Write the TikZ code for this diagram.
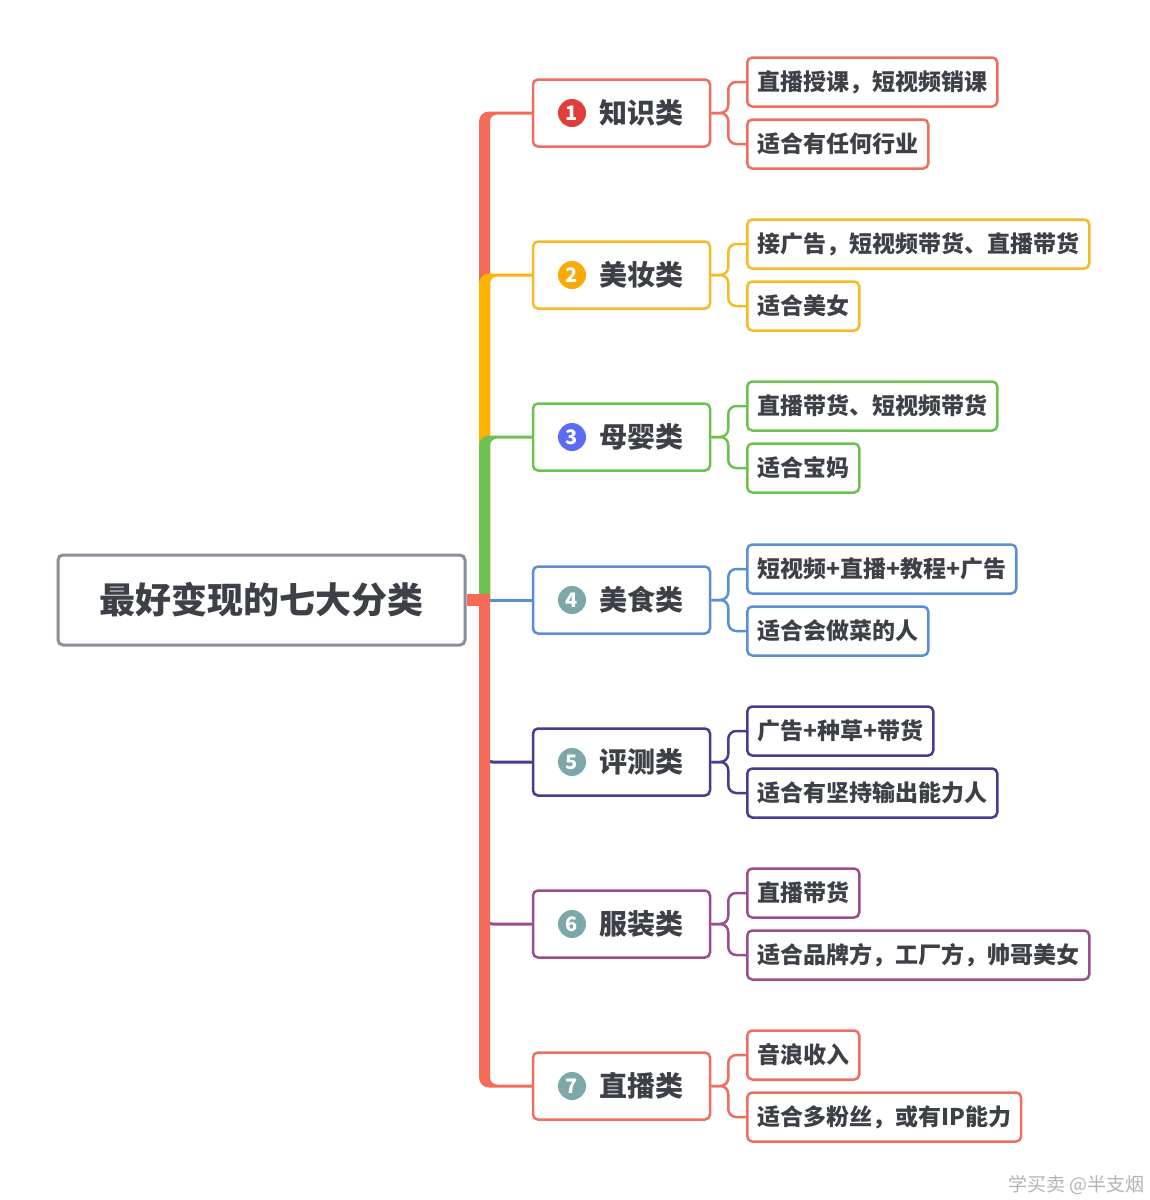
\documentclass[tikz,border=0pt]{standalone}
\usepackage{fontspec}
\setmainfont{Noto Sans CJK SC}
\usetikzlibrary{calc}
\definecolor{txt}{HTML}{3D4147}
\definecolor{rootgray}{HTML}{8A8F9C}
\definecolor{cora}{HTML}{F06E5C}
\definecolor{trunkcoral}{HTML}{F56B57}
\definecolor{reddot}{HTML}{E23D3D}
\definecolor{yel}{HTML}{F5BC28}
\definecolor{trunkyel}{HTML}{FFB300}
\definecolor{yeldot}{HTML}{F9A908}
\definecolor{grn}{HTML}{6CC24F}
\definecolor{violetdot}{HTML}{5C6CF2}
\definecolor{blu}{HTML}{5B8FD4}
\definecolor{tealdot}{HTML}{7CA8AA}
\definecolor{pur}{HTML}{4B3A8F}
\definecolor{plum}{HTML}{9B4D8D}
\definecolor{corb}{HTML}{EF6F5E}
\definecolor{wm}{HTML}{B4B4B4}
\pgfdeclarelayer{bg}
\pgfsetlayers{bg,main}
\begin{document}
\begin{tikzpicture}[x=1pt,y=1pt,
  rootbox/.style={draw=rootgray, line width=3pt, rounded corners=5pt, fill=white, minimum width=407pt, minimum height=90pt, text=txt, font=\fontsize{36}{36}\selectfont\bfseries, inner sep=0pt},
  catbox/.style={draw=#1, line width=2.5pt, rounded corners=5pt, fill=white, minimum width=177pt, minimum height=67pt, inner sep=0pt},
  numdot/.style={circle, fill=#1, minimum size=28pt, inner sep=0pt, text=white, font=\fontsize{20}{20}\selectfont\bfseries},
  cattext/.style={anchor=west, inner sep=0pt, text=txt, font=\fontsize{28}{28}\selectfont\bfseries},
  leafbox/.style={draw=#1, line width=2.5pt, rounded corners=5pt, fill=white, minimum height=49pt, inner xsep=10pt, inner ysep=0pt, anchor=west, text=txt, font=\fontsize{23}{23}\selectfont\bfseries},
  leafline/.style={draw=#1, line width=2.5pt, rounded corners=8pt},
  thinline/.style={draw=#1, line width=3pt, rounded corners=8pt}
]
\useasboundingbox (0,0) rectangle (1150,-1200);
\begin{pgfonlayer}{bg}
  \fill[white] (0,0) rectangle (1150,-1200);
\end{pgfonlayer}

\node[rootbox] (root) at (261.5,-600) {最好变现的七大分类};
\coordinate (T) at (484.5,-600);

\foreach \i/\y/\col/\dcol/\name in {1/113/cora/reddot/知识类, 2/275/yel/yeldot/美妆类, 3/437/grn/violetdot/母婴类, 4/600/blu/tealdot/美食类, 5/762/pur/tealdot/评测类, 6/924/plum/tealdot/服装类, 7/1086/corb/tealdot/直播类}{
  \node[catbox=\col] (c\i) at (621.5,-\y) {};
  \node[numdot=\dcol] (n\i) at (572,-\y) {\i};
  \node[cattext] (t\i) at (599,-\y) {\name};
}

\begin{pgfonlayer}{bg}
  % upward branches (tapered trunk)
  \foreach \i/\col/\tcol in {1/cora/trunkcoral, 2/yel/trunkyel, 3/grn/grn}{
    \fill[\tcol] let \p1=(T), \p2=(c\i.west) in
      (\x1-5.5pt,\y1) -- (\x1-5.5pt,\y2-8.5pt) arc[start angle=180,end angle=90,radius=10pt]
      -- (\x2,\y2+1.5pt) -- (\x2,\y2-1.5pt) -- (\x1+12.5pt,\y2-1.5pt)
      arc[start angle=90,end angle=180,radius=7pt] -- (\x1+5.5pt,\y1) -- cycle;
  }
  \draw[thinline=blu] (T) -- (c4.west);
  \draw[thinline=pur] (T) |- (c5.west);
  \draw[thinline=plum] (T) |- (c6.west);
  % downward branch 7
  \fill[trunkcoral] let \p1=(T), \p2=(c7.west) in
    (\x1-5.5pt,\y1+6pt) -- (\x1-5.5pt,\y2+8.5pt) arc[start angle=180,end angle=270,radius=10pt]
    -- (\x2,\y2-1.5pt) -- (\x2,\y2+1.5pt) -- (\x1+12.5pt,\y2+1.5pt)
    arc[start angle=270,end angle=180,radius=7pt] -- (\x1+5.5pt,\y1+6pt) -- cycle;
  % root connector
  \draw[trunkcoral, line width=12pt] (root.east) -- ($(T)+(5.5,0)$);
\end{pgfonlayer}

\foreach \i/\y/\col/\a/\b in {1/113/cora/直播授课，短视频销课/适合有任何行业, 2/275/yel/接广告，短视频带货、直播带货/适合美女, 3/437/grn/直播带货、短视频带货/适合宝妈, 4/600/blu/短视频+直播+教程+广告/适合会做菜的人, 5/762/pur/广告+种草+带货/适合有坚持输出能力人, 6/924/plum/直播带货/适合品牌方，工厂方，帅哥美女, 7/1086/corb/音浪收入/适合多粉丝，或有IP能力}{
  \node[leafbox=\col] (l\i a) at (746,-\y+31) {\a};
  \node[leafbox=\col] (l\i b) at (746,-\y-31) {\b};
  \begin{pgfonlayer}{bg}
    \draw[leafline=\col] (c\i.east) -- ++(17,0) |- (l\i a.west);
    \draw[leafline=\col] (c\i.east) -- ++(17,0) |- (l\i b.west);
  \end{pgfonlayer}
}

\node[anchor=east, inner sep=0pt, text=wm, font=\fontsize{19}{19}\selectfont] (wmark) at (1145,-1185) {学买卖 @半支烟};
\end{tikzpicture}
\end{document}
